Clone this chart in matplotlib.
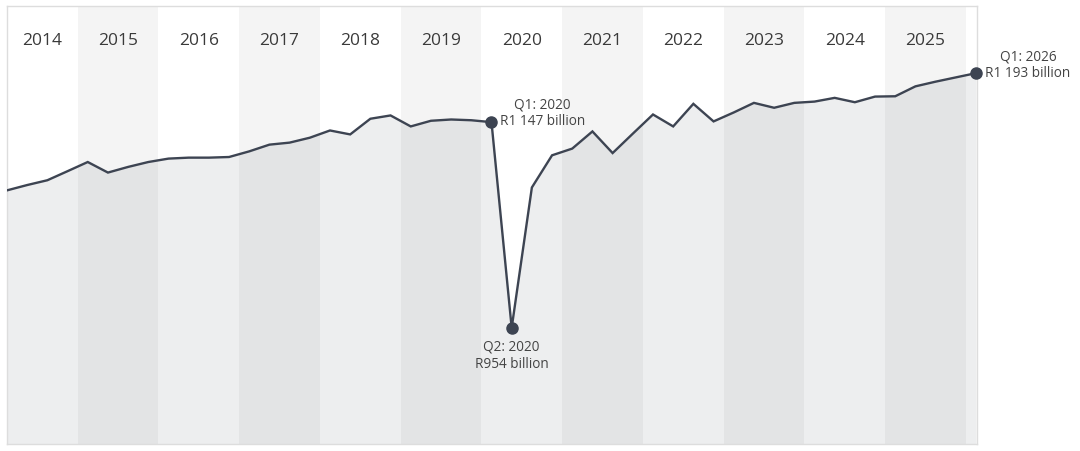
import matplotlib
matplotlib.use('Agg')
import matplotlib.pyplot as plt
import numpy as np

plt.rcParams['font.family'] = ['Open Sans', 'DejaVu Sans']

# quarterly values, Q1 2014 .. Q1 2026 (R billion)
values = [1083, 1088, 1092.5, 1101, 1109.6, 1099.7, 1105, 1109.6,
          1112.8, 1113.7, 1113.7, 1114.3, 1119.6, 1125.9, 1127.8, 1132.4,
          1139.2, 1135.5, 1150.2, 1153.3, 1143, 1148.3, 1149.5, 1148.8,
          1147, 954, 1085.7, 1115.9, 1122.2, 1138.3, 1118, 1136.2,
          1154.2, 1143, 1164.2, 1147.7, 1156.1, 1165.1, 1160.5, 1165.1,
          1166.3, 1169.8, 1165.7, 1171, 1171.3, 1180.6, 1185, 1189,
          1193]
years = list(range(2014, 2026))

# highlighted points: index, label, text offset (pixels)
highlights = [(24, 'Q1: 2020\nR1 147 billion', (51, 10)),
              (25, 'Q2: 2020\nR954 billion', (0, -27)),
              (48, 'Q1: 2026\nR1 193 billion', (52, 9))]

line_col = '#3d4452'
band_col = '#f4f4f4'
text_col = '#444444'

fig = plt.figure(figsize=(10.8, 4.52), dpi=100)
ax = fig.add_axes([7 / 1080, 7 / 452, 970 / 1080, 438 / 452])

x = np.arange(len(values))
ax.set_xlim(0, len(values) - 1 + 0.05)
ax.set_ylim(845, 1256)

# alternating year bands + year labels
for i, yr in enumerate(years):
    lo, hi = 4 * i - 0.5, 4 * i + 3.5
    if i % 2 == 1:
        ax.axvspan(lo, hi, color=band_col, lw=0, zorder=0)
    xc = (max(lo, 0) + hi) / 2
    ax.text(xc, 0.922, str(yr), transform=ax.get_xaxis_transform(),
            ha='center', va='center', fontsize=12.5, color='#3a3a3a')

ax.fill_between(x, values, 800, color=line_col, alpha=0.09, lw=0, zorder=1)
ax.plot(x, values, color=line_col, lw=1.7, zorder=3, solid_joinstyle='miter')

for idx, label, off in highlights:
    ax.plot(idx, values[idx], 'o', color=line_col, ms=8, zorder=4, clip_on=False)
    ax.annotate(label, (idx, values[idx]), xytext=off, textcoords='offset pixels',
                ha='center', va='center', fontsize=9.8, color=text_col,
                linespacing=1.2, annotation_clip=False)

ax.set_xticks([])
ax.set_yticks([])
for s in ax.spines.values():
    s.set_color('#dddddd')
    s.set_linewidth(1)

fig.savefig('out.png', dpi=100)
